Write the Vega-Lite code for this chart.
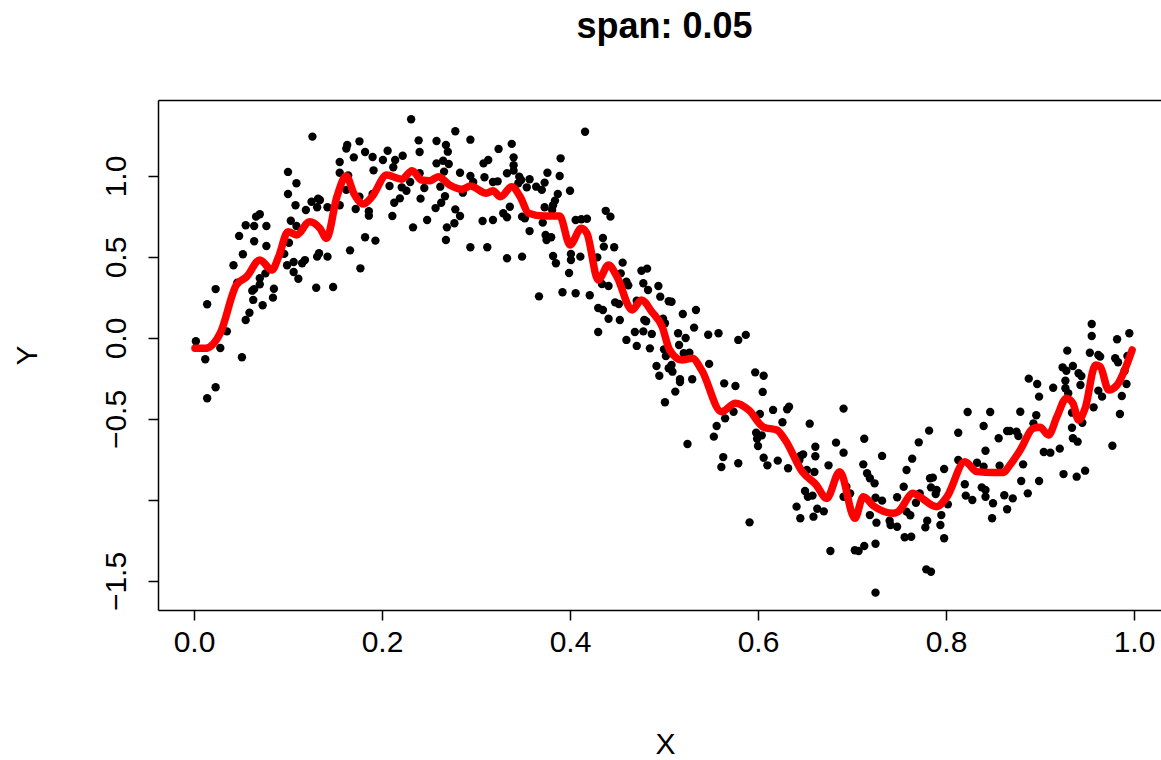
{
 "$schema": "https://vega.github.io/schema/vega-lite/v6.json",
 "width": 1003,
 "height": 510,
 "autosize": {"type": "none"},
 "padding": {"left": 158, "top": 100, "right": 0, "bottom": 150},
 "background": "white",
 "title": {"text": "span: 0.05", "font": "Liberation Sans", "fontSize": 36, "fontWeight": "bold", "color": "black", "anchor": "middle", "frame": "group", "baseline": "alphabetic", "offset": 26, "dx": 5},
 "config": {
  "view": {"stroke": null},
  "axis": {"grid": false, "domainColor": "black", "domainWidth": 1.5, "tickColor": "black", "tickWidth": 1.5, "tickSize": 10,
   "labelFont": "Liberation Sans", "labelFontSize": 30, "labelColor": "black",
   "titleFont": "Liberation Sans", "titleFontSize": 30, "titleFontWeight": "normal", "titleColor": "black"}
 },
 "datasets": {
  "pts": [
   {"x":0.126,"y":1.243},{"x":0.100,"y":1.025},{"x":0.109,"y":0.955},{"x":0.100,"y":0.889},{"x":0.108,"y":0.819},{"x":0.125,"y":0.841},{"x":0.132,"y":0.860},{"x":0.134,"y":0.852},{"x":0.131,"y":0.807},{"x":0.142,"y":0.807},{"x":0.119,"y":0.790},{"x":0.070,"y":0.764},{"x":0.066,"y":0.749},{"x":0.055,"y":0.696},{"x":0.064,"y":0.691},{"x":0.077,"y":0.691},{"x":0.048,"y":0.630},{"x":0.064,"y":0.597},{"x":0.077,"y":0.568},{"x":0.103,"y":0.724},{"x":0.109,"y":0.691},{"x":0.101,"y":0.588},{"x":0.096,"y":0.519},{"x":0.052,"y":0.517},{"x":0.042,"y":0.449},{"x":0.099,"y":0.449},{"x":0.106,"y":0.469},{"x":0.115,"y":0.461},{"x":0.118,"y":0.481},{"x":0.106,"y":0.407},{"x":0.111,"y":0.366},{"x":0.131,"y":0.502},{"x":0.133,"y":0.523},{"x":0.142,"y":0.502},{"x":0.130,"y":0.310},{"x":0.076,"y":0.399},{"x":0.070,"y":0.369},{"x":0.070,"y":0.331},{"x":0.064,"y":0.302},{"x":0.062,"y":0.292},{"x":0.046,"y":0.341},{"x":0.023,"y":0.302},{"x":0.085,"y":0.304},{"x":0.084,"y":0.249},{"x":0.063,"y":0.235},{"x":0.073,"y":0.202},{"x":0.014,"y":0.208},{"x":0.059,"y":0.156},{"x":0.055,"y":0.111},{"x":0.035,"y":0.041},{"x":0.002,"y":-0.020},{"x":0.028,"y":-0.062},{"x":0.012,"y":-0.131},{"x":0.051,"y":-0.119},{"x":0.023,"y":-0.304},{"x":0.014,"y":-0.372},
   {"x":0.231,"y":1.350},{"x":0.278,"y":1.276},{"x":0.294,"y":1.224},{"x":0.176,"y":1.214},{"x":0.163,"y":1.191},{"x":0.162,"y":1.169},{"x":0.239,"y":1.220},{"x":0.258,"y":1.216},{"x":0.268,"y":1.191},{"x":0.270,"y":1.150},{"x":0.240,"y":1.148},{"x":0.182,"y":1.148},{"x":0.170,"y":1.115},{"x":0.190,"y":1.117},{"x":0.206,"y":1.156},{"x":0.201,"y":1.099},{"x":0.214,"y":1.099},{"x":0.222,"y":1.125},{"x":0.212,"y":1.054},{"x":0.191,"y":1.035},{"x":0.155,"y":1.086},{"x":0.155,"y":1.020},{"x":0.164,"y":1.004},{"x":0.324,"y":1.167},{"x":0.308,"y":1.078},{"x":0.313,"y":1.099},{"x":0.258,"y":1.078},{"x":0.265,"y":1.094},{"x":0.271,"y":1.074},{"x":0.266,"y":1.027},{"x":0.283,"y":1.020},{"x":0.294,"y":1.000},{"x":0.309,"y":0.992},{"x":0.318,"y":0.963},{"x":0.323,"y":0.967},{"x":0.297,"y":0.963},{"x":0.240,"y":1.017},{"x":0.230,"y":0.963},{"x":0.221,"y":0.930},{"x":0.226,"y":0.909},{"x":0.208,"y":0.938},{"x":0.245,"y":0.926},{"x":0.262,"y":0.934},{"x":0.162,"y":0.914},{"x":0.176,"y":0.872},{"x":0.190,"y":0.889},{"x":0.241,"y":0.860},{"x":0.267,"y":0.875},{"x":0.263,"y":0.835},{"x":0.257,"y":0.802},{"x":0.219,"y":0.862},{"x":0.213,"y":0.835},{"x":0.286,"y":0.897},{"x":0.155,"y":0.819},{"x":0.172,"y":0.796},{"x":0.186,"y":0.782},{"x":0.186,"y":0.755},{"x":0.211,"y":0.753},{"x":0.278,"y":0.794},{"x":0.283,"y":0.753},{"x":0.277,"y":0.708},{"x":0.269,"y":0.683},{"x":0.248,"y":0.728},{"x":0.233,"y":0.683},{"x":0.307,"y":0.722},{"x":0.318,"y":0.728},{"x":0.182,"y":0.622},{"x":0.193,"y":0.601},{"x":0.268,"y":0.605},{"x":0.294,"y":0.560},{"x":0.312,"y":0.560},{"x":0.166,"y":0.541},{"x":0.177,"y":0.430},{"x":0.148,"y":0.315},
   {"x":0.416,"y":1.273},{"x":0.338,"y":1.198},{"x":0.340,"y":1.115},{"x":0.340,"y":1.066},{"x":0.340,"y":1.033},{"x":0.333,"y":1.017},{"x":0.346,"y":0.996},{"x":0.348,"y":0.975},{"x":0.357,"y":0.980},{"x":0.345,"y":0.955},{"x":0.390,"y":1.109},{"x":0.376,"y":1.020},{"x":0.389,"y":1.000},{"x":0.373,"y":0.959},{"x":0.364,"y":0.934},{"x":0.370,"y":0.914},{"x":0.354,"y":0.930},{"x":0.400,"y":0.909},{"x":0.387,"y":0.889},{"x":0.384,"y":0.848},{"x":0.382,"y":0.819},{"x":0.373,"y":0.807},{"x":0.381,"y":0.790},{"x":0.336,"y":0.810},{"x":0.329,"y":0.770},{"x":0.333,"y":0.745},{"x":0.349,"y":0.749},{"x":0.352,"y":0.739},{"x":0.357,"y":0.660},{"x":0.371,"y":0.712},{"x":0.374,"y":0.636},{"x":0.380,"y":0.622},{"x":0.375,"y":0.605},{"x":0.406,"y":0.728},{"x":0.412,"y":0.733},{"x":0.418,"y":0.736},{"x":0.438,"y":0.785},{"x":0.443,"y":0.749},{"x":0.435,"y":0.617},{"x":0.436,"y":0.564},{"x":0.447,"y":0.560},{"x":0.333,"y":0.492},{"x":0.349,"y":0.502},{"x":0.382,"y":0.506},{"x":0.385,"y":0.461},{"x":0.401,"y":0.519},{"x":0.401,"y":0.481},{"x":0.411,"y":0.502},{"x":0.429,"y":0.498},{"x":0.399,"y":0.401},{"x":0.456,"y":0.465},{"x":0.454,"y":0.399},{"x":0.460,"y":0.348},{"x":0.462,"y":0.325},{"x":0.476,"y":0.415},{"x":0.482,"y":0.428},{"x":0.478,"y":0.338},{"x":0.483,"y":0.296},{"x":0.494,"y":0.321},{"x":0.496,"y":0.255},{"x":0.434,"y":0.333},{"x":0.441,"y":0.321},{"x":0.367,"y":0.257},{"x":0.392,"y":0.282},{"x":0.406,"y":0.276},{"x":0.421,"y":0.264},{"x":0.448,"y":0.220},{"x":0.452,"y":0.210},{"x":0.471,"y":0.230},{"x":0.430,"y":0.185},{"x":0.435,"y":0.173},{"x":0.441,"y":0.119},{"x":0.453,"y":0.111},{"x":0.479,"y":0.111},{"x":0.481,"y":0.103},{"x":0.499,"y":0.119},{"x":0.501,"y":0.091},{"x":0.505,"y":0.227},{"x":0.430,"y":0.037},{"x":0.469,"y":0.037},{"x":0.478,"y":0.041},{"x":0.487,"y":0.025},{"x":0.460,"y":-0.012},{"x":0.471,"y":-0.049},{"x":0.485,"y":-0.064},{"x":0.500,"y":-0.070},{"x":0.502,"y":-0.111},
   {"x":0.492,"y":-0.173},{"x":0.495,"y":-0.233},{"x":0.505,"y":-0.187},{"x":0.501,"y":-0.397},
   {"x":0.508,"y":0.224},{"x":0.520,"y":0.148},{"x":0.534,"y":0.173},{"x":0.532,"y":0.064},{"x":0.515,"y":0.029},{"x":0.523,"y":0.000},{"x":0.547,"y":0.020},{"x":0.558,"y":0.029},{"x":0.579,"y":-0.012},{"x":0.587,"y":0.019},{"x":0.516,"y":-0.043},
   {"x":0.508,"y":-0.167},{"x":0.509,"y":-0.208},{"x":0.517,"y":-0.255},{"x":0.517,"y":-0.272},{"x":0.530,"y":-0.255},{"x":0.512,"y":-0.331},{"x":0.548,"y":-0.160},{"x":0.521,"y":-0.094},{"x":0.527,"y":-0.091},{"x":0.564,"y":-0.280},{"x":0.576,"y":-0.296},{"x":0.597,"y":-0.212},{"x":0.606,"y":-0.233},{"x":0.605,"y":-0.333},{"x":0.565,"y":-0.496},{"x":0.574,"y":-0.455},{"x":0.556,"y":-0.543},{"x":0.553,"y":-0.609},{"x":0.525,"y":-0.654},{"x":0.602,"y":-0.469},{"x":0.616,"y":-0.444},{"x":0.631,"y":-0.440},{"x":0.633,"y":-0.424},{"x":0.626,"y":-0.520},{"x":0.655,"y":-0.529},{"x":0.598,"y":-0.585},{"x":0.604,"y":-0.601},{"x":0.599,"y":-0.622},{"x":0.600,"y":-0.667},{"x":0.563,"y":-0.735},{"x":0.561,"y":-0.796},{"x":0.579,"y":-0.773},{"x":0.606,"y":-0.739},{"x":0.610,"y":-0.786},{"x":0.621,"y":-0.757},{"x":0.632,"y":-0.804},{"x":0.645,"y":-0.728},{"x":0.648,"y":-0.718},{"x":0.644,"y":-0.753},{"x":0.661,"y":-0.671},{"x":0.661,"y":-0.730},{"x":0.675,"y":-0.786},{"x":0.652,"y":-0.815},{"x":0.660,"y":-0.827},{"x":0.683,"y":-0.646},{"x":0.650,"y":-0.944},{"x":0.653,"y":-0.980},{"x":0.658,"y":-0.973},{"x":0.641,"y":-1.041},{"x":0.645,"y":-1.113},{"x":0.659,"y":-1.103},{"x":0.663,"y":-1.054},{"x":0.670,"y":-1.070},{"x":0.591,"y":-1.138},{"x":0.677,"y":-1.315},
   {"x":0.691,"y":-0.436},{"x":0.691,"y":-0.708},{"x":0.713,"y":-0.622},{"x":0.732,"y":-0.728},{"x":0.712,"y":-0.780},{"x":0.716,"y":-0.835},{"x":0.719,"y":-0.866},{"x":0.724,"y":-0.897},{"x":0.694,"y":-0.918},{"x":0.691,"y":-0.980},{"x":0.698,"y":-0.959},{"x":0.725,"y":-0.986},{"x":0.732,"y":-1.004},{"x":0.748,"y":-0.983},{"x":0.755,"y":-0.918},{"x":0.758,"y":-0.815},{"x":0.764,"y":-0.745},{"x":0.771,"y":-0.644},{"x":0.782,"y":-0.572},{"x":0.719,"y":-1.093},{"x":0.726,"y":-1.140},{"x":0.740,"y":-1.128},{"x":0.741,"y":-1.154},{"x":0.748,"y":-1.165},{"x":0.758,"y":-1.072},{"x":0.762,"y":-1.094},{"x":0.772,"y":-0.959},{"x":0.768,"y":-1.017},{"x":0.783,"y":-0.866},{"x":0.786,"y":-0.862},{"x":0.784,"y":-0.922},{"x":0.790,"y":-0.938},{"x":0.789,"y":-0.963},{"x":0.780,"y":-1.128},{"x":0.778,"y":-1.169},{"x":0.794,"y":-1.154},{"x":0.795,"y":-1.093},{"x":0.798,"y":-1.236},{"x":0.756,"y":-1.230},{"x":0.763,"y":-1.227},{"x":0.703,"y":-1.310},{"x":0.707,"y":-1.315},{"x":0.713,"y":-1.284},{"x":0.725,"y":-1.270},{"x":0.779,"y":-1.428},{"x":0.784,"y":-1.443},{"x":0.725,"y":-1.572},{"x":0.798,"y":-0.809},{"x":0.802,"y":-1.027},{"x":0.813,"y":-0.585},{"x":0.813,"y":-0.753},{"x":0.820,"y":-0.903},{"x":0.821,"y":-0.973},{"x":0.828,"y":-1.000},{"x":0.823,"y":-0.457},{"x":0.847,"y":-0.457},{"x":0.840,"y":-0.543},{"x":0.842,"y":-0.696},{"x":0.856,"y":-0.619},{"x":0.865,"y":-0.574},{"x":0.833,"y":-0.770},{"x":0.840,"y":-0.794},{"x":0.857,"y":-0.788},{"x":0.838,"y":-0.922},{"x":0.842,"y":-0.938},{"x":0.842,"y":-0.980},{"x":0.850,"y":-1.020},{"x":0.849,"y":-1.113},{"x":0.862,"y":-0.971},{"x":0.865,"y":-1.057},
   {"x":0.955,"y":0.086},{"x":0.955,"y":0.012},{"x":0.982,"y":-0.008},{"x":0.995,"y":0.029},
   {"x":0.929,"y":-0.078},{"x":0.953,"y":-0.091},{"x":0.962,"y":-0.105},{"x":0.964,"y":-0.115},{"x":0.980,"y":-0.125},{"x":0.983,"y":-0.150},{"x":0.993,"y":-0.111},{"x":0.990,"y":-0.202},{"x":0.992,"y":-0.284},{"x":0.987,"y":-0.358},{"x":0.985,"y":-0.469},{"x":0.924,"y":-0.181},{"x":0.928,"y":-0.202},{"x":0.935,"y":-0.173},{"x":0.941,"y":-0.218},{"x":0.944,"y":-0.235},{"x":0.927,"y":-0.264},{"x":0.943,"y":-0.290},{"x":0.914,"y":-0.307},{"x":0.927,"y":-0.310},{"x":0.930,"y":-0.341},{"x":0.962,"y":-0.325},{"x":0.966,"y":-0.362},{"x":0.957,"y":-0.428},{"x":0.888,"y":-0.251},{"x":0.897,"y":-0.284},{"x":0.899,"y":-0.362},{"x":0.879,"y":-0.455},{"x":0.896,"y":-0.477},{"x":0.893,"y":-0.527},{"x":0.875,"y":-0.578},{"x":0.877,"y":-0.605},{"x":0.868,"y":-0.574},{"x":0.934,"y":-0.461},{"x":0.945,"y":-0.523},{"x":0.934,"y":-0.554},{"x":0.935,"y":-0.619},{"x":0.940,"y":-0.640},{"x":0.948,"y":-0.819},{"x":0.939,"y":-0.856},{"x":0.925,"y":-0.840},{"x":0.904,"y":-0.704},{"x":0.911,"y":-0.708},{"x":0.921,"y":-0.683},{"x":0.882,"y":-0.780},{"x":0.880,"y":-0.883},{"x":0.899,"y":-0.883},{"x":0.887,"y":-0.959},{"x":0.871,"y":-0.990},{"x":0.977,"y":-0.665}
  ],
  "fit": [
   {"x":0.001,"y":-0.064},{"x":0.012,"y":-0.064},{"x":0.028,"y":0.031},{"x":0.045,"y":0.327},{"x":0.056,"y":0.378},{"x":0.070,"y":0.481},{"x":0.083,"y":0.420},{"x":0.090,"y":0.502},{"x":0.100,"y":0.656},{"x":0.109,"y":0.636},{"x":0.123,"y":0.718},{"x":0.134,"y":0.677},{"x":0.141,"y":0.615},{"x":0.152,"y":0.872},{"x":0.162,"y":1.000},{"x":0.170,"y":0.893},{"x":0.180,"y":0.827},{"x":0.189,"y":0.869},{"x":0.205,"y":1.006},{"x":0.221,"y":0.980},{"x":0.232,"y":1.033},{"x":0.242,"y":0.975},{"x":0.251,"y":0.971},{"x":0.260,"y":0.996},{"x":0.272,"y":0.944},{"x":0.285,"y":0.918},{"x":0.294,"y":0.938},{"x":0.311,"y":0.893},{"x":0.318,"y":0.909},{"x":0.326,"y":0.872},{"x":0.338,"y":0.934},{"x":0.347,"y":0.872},{"x":0.356,"y":0.770},{"x":0.372,"y":0.753},{"x":0.389,"y":0.753},{"x":0.400,"y":0.574},{"x":0.412,"y":0.677},{"x":0.418,"y":0.646},{"x":0.430,"y":0.358},{"x":0.441,"y":0.451},{"x":0.450,"y":0.378},{"x":0.466,"y":0.173},{"x":0.476,"y":0.235},{"x":0.487,"y":0.162},{"x":0.498,"y":0.070},{"x":0.506,"y":-0.074},{"x":0.519,"y":-0.136},{"x":0.530,"y":-0.125},{"x":0.540,"y":-0.198},{"x":0.561,"y":-0.455},{"x":0.576,"y":-0.403},{"x":0.590,"y":-0.444},{"x":0.606,"y":-0.551},{"x":0.620,"y":-0.568},{"x":0.629,"y":-0.630},{"x":0.647,"y":-0.825},{"x":0.662,"y":-0.907},{"x":0.673,"y":-0.990},{"x":0.687,"y":-0.825},{"x":0.703,"y":-1.113},{"x":0.712,"y":-0.980},{"x":0.723,"y":-1.037},{"x":0.744,"y":-1.082},{"x":0.749,"y":-1.072},{"x":0.765,"y":-0.959},{"x":0.772,"y":-0.980},{"x":0.790,"y":-1.041},{"x":0.801,"y":-0.980},{"x":0.820,"y":-0.764},{"x":0.833,"y":-0.825},{"x":0.850,"y":-0.831},{"x":0.861,"y":-0.831},{"x":0.868,"y":-0.784},{"x":0.879,"y":-0.691},{"x":0.893,"y":-0.557},{"x":0.900,"y":-0.551},{"x":0.909,"y":-0.599},{"x":0.918,"y":-0.486},{"x":0.928,"y":-0.372},{"x":0.935,"y":-0.403},{"x":0.941,"y":-0.506},{"x":0.948,"y":-0.434},{"x":0.959,"y":-0.167},{"x":0.964,"y":-0.177},{"x":0.973,"y":-0.321},{"x":0.982,"y":-0.290},{"x":0.990,"y":-0.198},{"x":0.998,"y":-0.074}
  ]
 },
 "layer": [
  {
   "data": {"name": "pts"},
   "mark": {"type": "circle", "size": 70, "color": "black", "opacity": 1},
   "encoding": {
    "x": {"field": "x", "type": "quantitative", "scale": {"domain": [-0.0383, 1.0287], "nice": false, "zero": false},
     "axis": {"orient": "bottom", "values": [0, 0.2, 0.4, 0.6, 0.8, 1], "format": ".1f", "labelBaseline": "alphabetic", "labelPadding": 31, "labelFlush": false, "labelOverlap": false, "title": "X", "titleBaseline": "alphabetic", "titleAlign": "center", "titleX": 507, "titleY": 143}},
    "y": {"field": "y", "type": "quantitative", "scale": {"domain": [-1.679, 1.469], "nice": false, "zero": false},
     "axis": {"orient": "left", "values": [-1.5, -1, -0.5, 0, 0.5, 1], "labelExpr": "datum.value == -1 ? '' : format(datum.value, '.1f')", "labelAngle": -90, "labelAlign": "center", "labelBaseline": "alphabetic", "labelPadding": 23, "labelFlush": false, "labelOverlap": false, "title": "Y", "titleAngle": -90, "titleBaseline": "alphabetic", "titleAlign": "center", "titleX": -122, "titleY": 255}}
   }
  },
  {
   "data": {"name": "fit"},
   "mark": {"type": "line", "color": "#FF0000", "strokeWidth": 7.5, "strokeCap": "round", "strokeJoin": "round", "interpolate": "monotone"},
   "encoding": {
    "x": {"field": "x", "type": "quantitative", "axis": {"orient": "top", "labels": false, "ticks": false, "domain": true, "title": null}},
    "y": {"field": "y", "type": "quantitative",
     "axis": {"orient": "left", "values": [-1.5, -1, -0.5, 0, 0.5, 1], "labelExpr": "datum.value == -1 ? '' : format(datum.value, '.1f')", "labelAngle": -90, "labelAlign": "center", "labelBaseline": "alphabetic", "labelPadding": 23, "labelFlush": false, "labelOverlap": false, "title": "Y", "titleAngle": -90, "titleBaseline": "alphabetic", "titleAlign": "center", "titleX": -122, "titleY": 255}}
   }
  }
 ]
}
